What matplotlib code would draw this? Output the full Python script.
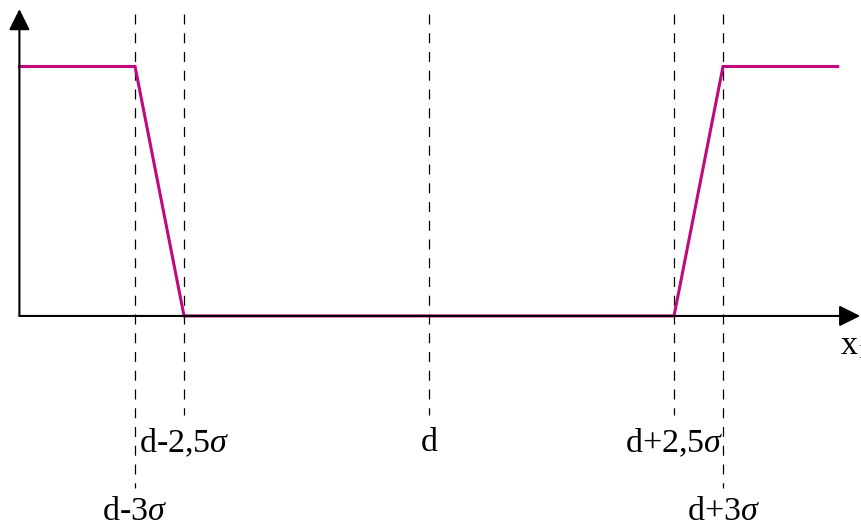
import matplotlib
matplotlib.use('Agg')
import matplotlib.pyplot as plt

# curve, in units of sigma around d (d = 0)
curve_x = [-4.18, -3.0, -2.5, 2.5, 3.0, 4.17]
curve_y = [1.0, 1.0, 0.0, 0.0, 1.0, 1.0]

# guide lines and their labels
guide_x = [-3.0, -2.5, 0.0, 2.5, 3.0]
guide_labels = ['d-3$\\sigma$', 'd-2,5$\\sigma$', 'd', 'd+2,5$\\sigma$', 'd+3$\\sigma$']
guide_low = [True, False, False, False, True]

plt.rcParams['font.family'] = 'Liberation Serif'
plt.rcParams['mathtext.fontset'] = 'custom'
plt.rcParams['mathtext.rm'] = 'Liberation Serif'
plt.rcParams['mathtext.it'] = 'Liberation Serif:italic'

fig = plt.figure(figsize=(8.61, 5.26), dpi=100)
ax = fig.add_axes([0, 0, 1, 1])
ax.set_xlim(-4.378, 4.408)
ax.set_ylim(-0.842, 1.2665)
ax.axis('off')

x0 = -4.18  # y axis position

# dashed guides
for gx, lab, low in zip(guide_x, guide_labels, guide_low):
    ybot = -0.69 if low else -0.397
    ax.plot([gx, gx], [1.21, ybot], color='black', lw=0.9, dashes=(8, 7))
    ty = -0.785 if low else -0.51
    ax.text(gx, ty, lab, ha='center', va='center', fontsize=24.5)

# axes with arrows
ax.annotate('', xy=(4.40, 0), xytext=(x0, 0),
            arrowprops=dict(arrowstyle='-|>', color='black', lw=1.5,
                            mutation_scale=32, shrinkA=0, shrinkB=0))
ax.annotate('', xy=(x0, 1.23), xytext=(x0, 0),
            arrowprops=dict(arrowstyle='-|>', color='black', lw=1.5,
                            mutation_scale=32, shrinkA=0, shrinkB=0))
ax.text(4.19, -0.12, 'x$_1$', ha='left', va='center', fontsize=24.5)

# curve
ax.plot(curve_x, curve_y, color='#C2087F', lw=2.2, solid_joinstyle='miter')

plt.savefig('out.png', dpi=100)
